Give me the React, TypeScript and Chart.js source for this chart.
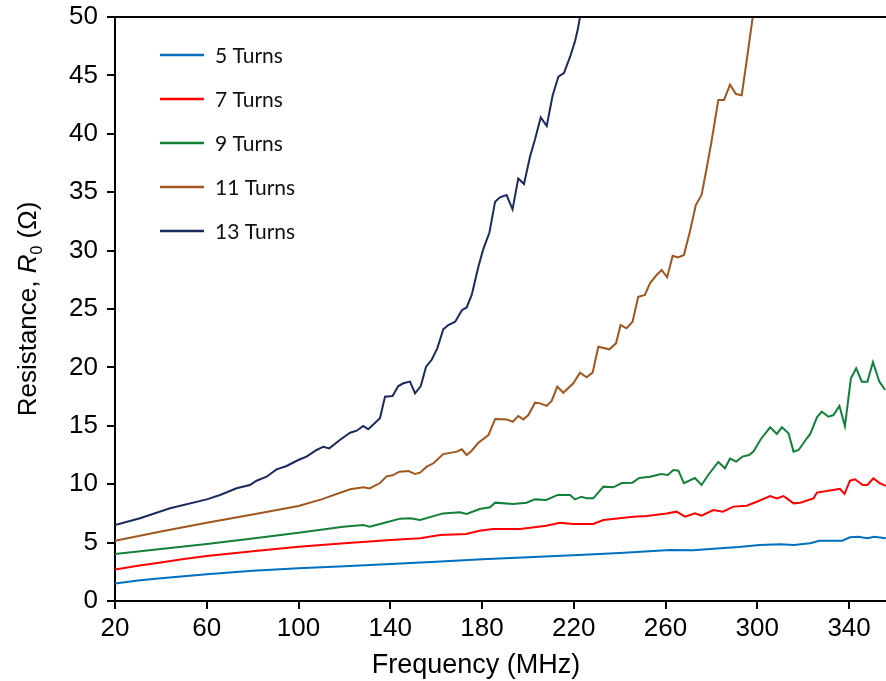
import React, { useEffect, useRef } from "react";
import { Chart, registerables } from "chart.js";

Chart.register(...registerables);

const xTicks = [20, 60, 100, 140, 180, 220, 260, 300, 340];
const yMin = 0;
const yMax = 50;
const yStep = 5;
const xMin = 20;
const xMax = 356.1;

const seriesNames = ["5 Turns", "7 Turns", "9 Turns", "11 Turns", "13 Turns"];
const seriesColors = ["#0070C0", "#FF0000", "#13803A", "#A0561E", "#1B2A5E"];

const freq5 = [20, 30, 40, 50, 60, 80, 100, 120, 140, 160, 180, 200, 222, 240, 262, 272, 284, 292, 301, 310, 316, 323, 327, 337, 340.4, 344, 348, 351, 356];
const res5 = [1.5, 1.75, 1.95, 2.12, 2.3, 2.58, 2.8, 2.98, 3.17, 3.37, 3.57, 3.75, 3.94, 4.12, 4.37, 4.35, 4.51, 4.62, 4.79, 4.85, 4.79, 4.94, 5.16, 5.16, 5.45, 5.5, 5.37, 5.5, 5.37];

const freq7 = [20, 30, 40, 50, 60, 80, 100, 120, 135.5, 140, 153, 161.7, 173, 179, 184.8, 196.6, 208, 214, 219.7, 228.5, 232.9, 240, 245.8, 251.8, 260.5, 264.8, 268.5, 272.8, 275.7, 280.8, 285, 289.6, 295.4, 299.8, 305.6, 308.5, 311.4, 312.9, 315.8, 318.7, 324.5, 326, 333, 336, 338, 340.4, 342.6, 346, 348, 350.6, 353.5, 356];
const res7 = [2.7, 3.02, 3.3, 3.6, 3.85, 4.25, 4.65, 4.95, 5.16, 5.22, 5.37, 5.65, 5.74, 6.02, 6.16, 6.16, 6.45, 6.7, 6.59, 6.59, 6.93, 7.08, 7.22, 7.28, 7.5, 7.65, 7.22, 7.5, 7.3, 7.79, 7.65, 8.08, 8.16, 8.5, 8.99, 8.79, 8.99, 8.79, 8.36, 8.42, 8.79, 9.28, 9.5, 9.6, 9.16, 10.3, 10.42, 9.93, 9.93, 10.5, 10.08, 9.85];

const freq9 = [20, 40, 60, 80, 100, 119.5, 128.3, 131, 138.4, 144.3, 148.6, 153, 163, 170.4, 173.3, 179, 183.5, 185.7, 193.6, 199.4, 203, 208, 213, 218.4, 220.5, 223.4, 225.6, 228.5, 232.9, 237.2, 240.9, 245.6, 248.5, 253.3, 258, 261, 263.4, 265.6, 268, 272.8, 275.7, 278.6, 283, 285.9, 288.1, 290.8, 293.5, 296.4, 298.3, 301.5, 305.6, 308.5, 310.7, 313.6, 315.8, 318, 321.6, 323.1, 326, 328.1, 331, 333.2, 335.8, 338.2, 340.8, 343.1, 345.6, 348, 350.4, 353.2, 355.7];
const res9 = [4.02, 4.45, 4.88, 5.35, 5.85, 6.36, 6.5, 6.36, 6.75, 7.05, 7.08, 6.93, 7.5, 7.59, 7.45, 7.88, 8.02, 8.42, 8.3, 8.42, 8.7, 8.65, 9.08, 9.08, 8.7, 8.93, 8.79, 8.79, 9.79, 9.73, 10.1, 10.13, 10.53, 10.64, 10.87, 10.79, 11.22, 11.16, 10.08, 10.53, 9.93, 10.79, 11.9, 11.36, 12.2, 11.93, 12.36, 12.5, 12.8, 13.85, 14.87, 14.3, 14.87, 14.36, 12.79, 12.93, 13.93, 14.3, 15.73, 16.21, 15.78, 15.92, 16.7, 14.98, 19.07, 19.92, 18.78, 18.78, 20.44, 18.78, 18.07];

const freq11 = [20, 40, 60, 80, 100, 110, 122.5, 128.3, 131, 135.5, 138.4, 141, 144, 148, 150.8, 153, 155.9, 158.8, 163.1, 169, 171.2, 173.3, 175.5, 178.4, 182.8, 185.7, 190.8, 193.4, 195.8, 198, 200.2, 203.1, 205.3, 208.2, 210.4, 212.8, 215.4, 219.8, 222.7, 225.6, 228.2, 230.7, 235.5, 238.4, 240.4, 243, 245.6, 248.1, 251, 253.2, 256.1, 258.3, 260.7, 263.1, 265.5, 268, 270.6, 273.2, 275.7, 277.9, 280, 283, 285.5, 288.1, 290.7, 293.2, 295.4, 298, 300];
const res11 = [5.16, 5.95, 6.7, 7.4, 8.13, 8.7, 9.56, 9.73, 9.64, 10.1, 10.67, 10.76, 11.07, 11.13, 10.87, 10.99, 11.5, 11.79, 12.58, 12.79, 12.99, 12.5, 12.87, 13.55, 14.21, 15.58, 15.55, 15.35, 15.84, 15.55, 15.92, 16.98, 16.92, 16.7, 17.15, 18.35, 17.83, 18.64, 19.55, 19.15, 19.55, 21.77, 21.55, 22.06, 23.63, 23.35, 23.91, 26.05, 26.2, 27.2, 27.91, 28.34, 27.71, 29.56, 29.42, 29.62, 31.62, 33.9, 34.76, 37.03, 39.3, 42.9, 42.9, 44.2, 43.4, 43.3, 46.3, 50.0, 53];

const freq13 = [20, 30.9, 44, 60, 65.8, 73, 78.8, 81.7, 86.1, 90.4, 94.8, 99.9, 103.5, 107.9, 110.8, 113.4, 118, 122.5, 125.4, 128.2, 130.4, 135.5, 137.7, 141, 143.5, 145.7, 148.6, 150.8, 153.3, 155.6, 158, 160.5, 163.1, 165.3, 168.3, 171.2, 173.3, 175.5, 178.4, 180.5, 183.2, 185.7, 187.8, 190.7, 193.3, 195.8, 198.3, 200.9, 203.1, 205.6, 208.2, 210.8, 213.3, 215.7, 218.4, 220.5, 221.7, 222.7, 224];
const res13 = [6.5, 7.08, 7.94, 8.7, 9.08, 9.65, 9.93, 10.3, 10.64, 11.27, 11.56, 12.07, 12.36, 12.93, 13.21, 13.07, 13.78, 14.41, 14.58, 14.98, 14.7, 15.64, 17.49, 17.55, 18.4, 18.64, 18.78, 17.78, 18.4, 20.06, 20.63, 21.63, 23.26, 23.63, 23.91, 24.9, 25.13, 26.2, 28.62, 30.1, 31.53, 34.19, 34.56, 34.76, 33.53, 36.18, 35.7, 38.04, 39.53, 41.41, 40.67, 43.3, 44.9, 45.2, 46.6, 47.9, 48.9, 50, 53];

const freqs = [freq5, freq7, freq9, freq11, freq13];
const values = [res5, res7, res9, res11, res13];

const AXIS_FONT = "'Liberation Sans', Arial, sans-serif";

const decorPlugin = {
  id: "decor",
  afterDraw(chart: any) {
    const ctx = chart.ctx as CanvasRenderingContext2D;
    const area = chart.chartArea;
    ctx.save();
    // top frame line
    ctx.strokeStyle = "#000";
    ctx.lineWidth = 2;
    ctx.beginPath();
    ctx.moveTo(area.left - 8, area.top);
    ctx.lineTo(area.right, area.top);
    ctx.stroke();

    // legend
    const rowY = [55, 99, 143, 187, 231];
    ctx.font = "21px Lato, 'Open Sans', sans-serif";
    ctx.textBaseline = "middle";
    ctx.textAlign = "left";
    seriesNames.forEach((name, i) => {
      ctx.strokeStyle = seriesColors[i];
      ctx.lineWidth = 2.5;
      ctx.beginPath();
      ctx.moveTo(160, rowY[i]);
      ctx.lineTo(204, rowY[i]);
      ctx.stroke();
      ctx.fillStyle = "#111";
      ctx.fillText(name, 215, rowY[i] + 1);
    });

    // x title
    ctx.fillStyle = "#000";
    ctx.font = `27px ${AXIS_FONT}`;
    ctx.textAlign = "center";
    ctx.textBaseline = "alphabetic";
    ctx.fillText("Frequency (MHz)", 476, 673);

    // y title with italic R and subscript 0
    const size = 26;
    const parts = [
      { t: "Resistance, ", f: `${size}px ${AXIS_FONT}`, dy: 0 },
      { t: "R", f: `italic ${size}px ${AXIS_FONT}`, dy: 0 },
      { t: "0", f: `${Math.round(size * 0.62)}px ${AXIS_FONT}`, dy: size * 0.22 },
      { t: " (Ω)", f: `${size}px ${AXIS_FONT}`, dy: 0 },
    ];
    let total = 0;
    const widths = parts.map((p) => {
      ctx.font = p.f;
      const w = ctx.measureText(p.t).width;
      total += w;
      return w;
    });
    ctx.translate(36, 309);
    ctx.rotate(-Math.PI / 2);
    ctx.textAlign = "left";
    let x = -total / 2;
    parts.forEach((p, i) => {
      ctx.font = p.f;
      ctx.fillText(p.t, x, p.dy);
      x += widths[i];
    });
    ctx.restore();
  },
};

export default function App() {
  const canvasRef = useRef<HTMLCanvasElement | null>(null);

  useEffect(() => {
    if (!canvasRef.current) return;
    const datasets = seriesNames.map((name, i) => ({
      label: name,
      data: freqs[i].map((f, j) => ({ x: f, y: values[i][j] })),
      borderColor: seriesColors[i],
      backgroundColor: seriesColors[i],
      borderWidth: 2,
      pointRadius: 0,
      tension: 0,
      clip: 0,
    }));
    const chart = new Chart(canvasRef.current, {
      type: "line",
      data: { datasets },
      options: {
        animation: false,
        responsive: false,
        devicePixelRatio: 1,
        layout: { padding: { top: 17, left: 0, right: 0, bottom: 0 } },
        plugins: { legend: { display: false }, tooltip: { enabled: false } },
        scales: {
          x: {
            type: "linear",
            min: xMin,
            max: xMax,
            border: { display: true, color: "#000", width: 2 },
            grid: { drawOnChartArea: false, drawTicks: true, tickLength: 8, color: "#000", lineWidth: 2 },
            ticks: {
              color: "#000",
              font: { family: AXIS_FONT, size: 26 },
              padding: 4,
              maxRotation: 0,
              autoSkip: false,
            },
            afterBuildTicks: (scale: any) => {
              scale.ticks = xTicks.map((v) => ({ value: v }));
            },
            afterFit: (scale: any) => {
              scale.height = 80;
              scale.paddingLeft = 0;
              scale.paddingRight = 0;
            },
          },
          y: {
            type: "linear",
            min: yMin,
            max: yMax,
            border: { display: true, color: "#000", width: 2 },
            grid: { drawOnChartArea: false, drawTicks: true, tickLength: 8, color: "#000", lineWidth: 2 },
            ticks: {
              stepSize: yStep,
              color: "#000",
              font: { family: AXIS_FONT, size: 26 },
              padding: 9,
            },
            afterFit: (scale: any) => {
              scale.width = 115;
              scale.paddingTop = 0;
              scale.paddingBottom = 0;
            },
          },
        },
      },
      plugins: [decorPlugin],
    });
    return () => chart.destroy();
  }, []);

  return (
    <div style={{ position: "absolute", left: 0, top: 0, width: 886, height: 681, background: "#fff" }}>
      <canvas ref={canvasRef} width={886} height={681} style={{ width: 886, height: 681 }} />
    </div>
  );
}
